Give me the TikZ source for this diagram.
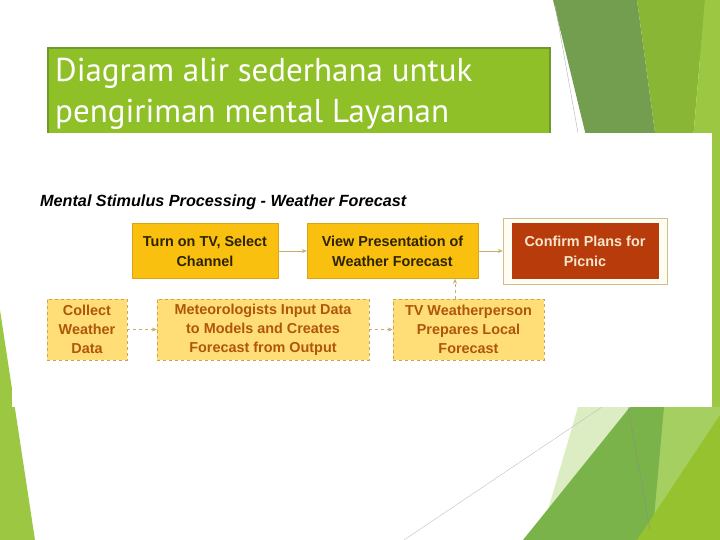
\documentclass[tikz,border=0pt]{standalone}
\usepackage{fontspec}
\setmainfont{Liberation Sans}
\newfontfamily\headfont{PT Sans}
\usetikzlibrary{positioning,arrows.meta}

\definecolor{leafdark}{HTML}{739D4F}
\definecolor{leafmid}{HTML}{89B735}
\definecolor{leaflight}{HTML}{9CC742}
\definecolor{leafbottom}{HTML}{7AB34A}
\definecolor{leafpale}{HTML}{DDEDC3}
\definecolor{leafsoft}{HTML}{A6CF62}
\definecolor{leafbright}{HTML}{95C22E}
\definecolor{headfill}{HTML}{8FC027}
\definecolor{headedge}{HTML}{6E9A2A}
\definecolor{boxgold}{HTML}{FAC00F}
\definecolor{boxgoldedge}{HTML}{D9A418}
\definecolor{boxtext}{HTML}{2E2300}
\definecolor{boxpale}{HTML}{FFDE78}
\definecolor{boxpaleedge}{HTML}{C9A650}
\definecolor{boxpaletext}{HTML}{B0560A}
\definecolor{picnicred}{HTML}{B83B0B}
\definecolor{picnicframe}{HTML}{FFFDF2}
\definecolor{picnicedge}{HTML}{CDBE8E}
\definecolor{picnictext}{HTML}{F6E7CB}
\definecolor{arrowtan}{HTML}{C4AE6A}

\tikzset{
  goldbox/.style={draw=boxgoldedge, fill=boxgold, text=boxtext, minimum height=55pt,
    inner sep=0pt, align=center, font=\bfseries\fontsize{14.4}{20}\selectfont},
  palebox/.style={draw=boxpaleedge, fill=boxpale, text=boxpaletext, dashed, minimum height=61pt,
    inner sep=0pt, align=center, font=\bfseries\fontsize{14.4}{19}\selectfont},
  redbox/.style={fill=picnicred, text=picnictext, minimum width=147pt, minimum height=55pt,
    inner sep=0pt, align=center, font=\bfseries\fontsize{14.4}{20}\selectfont},
  flow/.style={draw=arrowtan, line width=0.8pt, -{Stealth[length=5pt,width=4pt]}}
}

\begin{document}
\begin{tikzpicture}[x=1pt,y=-1pt,on grid]
\useasboundingbox (0,0) rectangle (720,540);

% slide decoration
\fill[leaflight] (700,0) rectangle (720,540);
\fill[leafdark] (553,0) -- (637,0) -- (656,140) -- (587,140) -- cycle;
\fill[leafmid] (637,0) -- (705,0) -- (693,140) -- (656,140) -- cycle;
\fill[leaflight] (705,0) -- (720,0) -- (720,140) -- (693,140) -- cycle;
\draw[gray!60, line width=0.4pt] (555,5) -- (578,133);
\fill[leaflight] (0,310) -- (35,540) -- (0,540) -- cycle;
\fill[leafpale] (578,407) -- (632,407) -- (545,520) -- cycle;
\fill[leafsoft] (660,407) -- (720,407) -- (720,540) -- (650,540) -- cycle;
\fill[leafbottom] (630,407) -- (664,407) -- (652,540) -- (523,540) -- cycle;
\fill[leafbright] (720,415) -- (720,540) -- (637,540) -- cycle;
\draw[black!45, line width=0.4pt] (628,407) -- (650,530);
\draw[gray!50, line width=0.4pt] (404,540) -- (602,407);

% heading
\node[draw=headedge, fill=headfill, line width=2pt, anchor=north west,
  minimum width=502pt, minimum height=93pt] (head) at (47,47) {};
\node[anchor=base west, align=left, text=white, inner sep=0pt,
  font=\headfont\fontsize{33}{41}\selectfont] (headtext) at (55,123)
  {Diagram alir sederhana untuk\\pengiriman mental Layanan};

% picture panel
\fill[white] (12,133) rectangle (712,407);

\node[anchor=base west, inner sep=0pt, font=\bfseries\itshape\fontsize{16.2}{20}\selectfont]
  (caption) at (40,207) {Mental Stimulus Processing - Weather Forecast};

\node[goldbox, minimum width=146pt] (turn) at (205,251) {Turn on TV, Select\\Channel};
\node[goldbox, minimum width=171pt, right=187.5pt of turn] (view) {View Presentation of\\Weather Forecast};
\node[draw=picnicedge, fill=picnicframe, minimum width=164pt, minimum height=66pt,
  right=192.5pt of view] (frame) {};
\node[redbox] (picnic) at (frame.center) {Confirm Plans for\\Picnic};

\node[palebox, minimum width=80pt] (collect) at (87,329.5) {Collect\\Weather\\Data};
\node[palebox, minimum width=212pt, right=176pt of collect] (models)
  {Meteorologists Input Data\\to Models and Creates\\Forecast from Output};
\node[palebox, minimum width=151pt, right=205.5pt of models] (local)
  {TV Weatherperson\\Prepares Local\\Forecast};

\draw[flow] (turn) -- (view);
\draw[flow] (view) -- (frame);
\draw[flow, dashed] (collect) -- (models);
\draw[flow, dashed] (models) -- (local);
\draw[flow, dashed] ([xshift=-13.5pt]local.north) -- ([xshift=-13.5pt]local.north |- view.south);
\end{tikzpicture}
\end{document}
